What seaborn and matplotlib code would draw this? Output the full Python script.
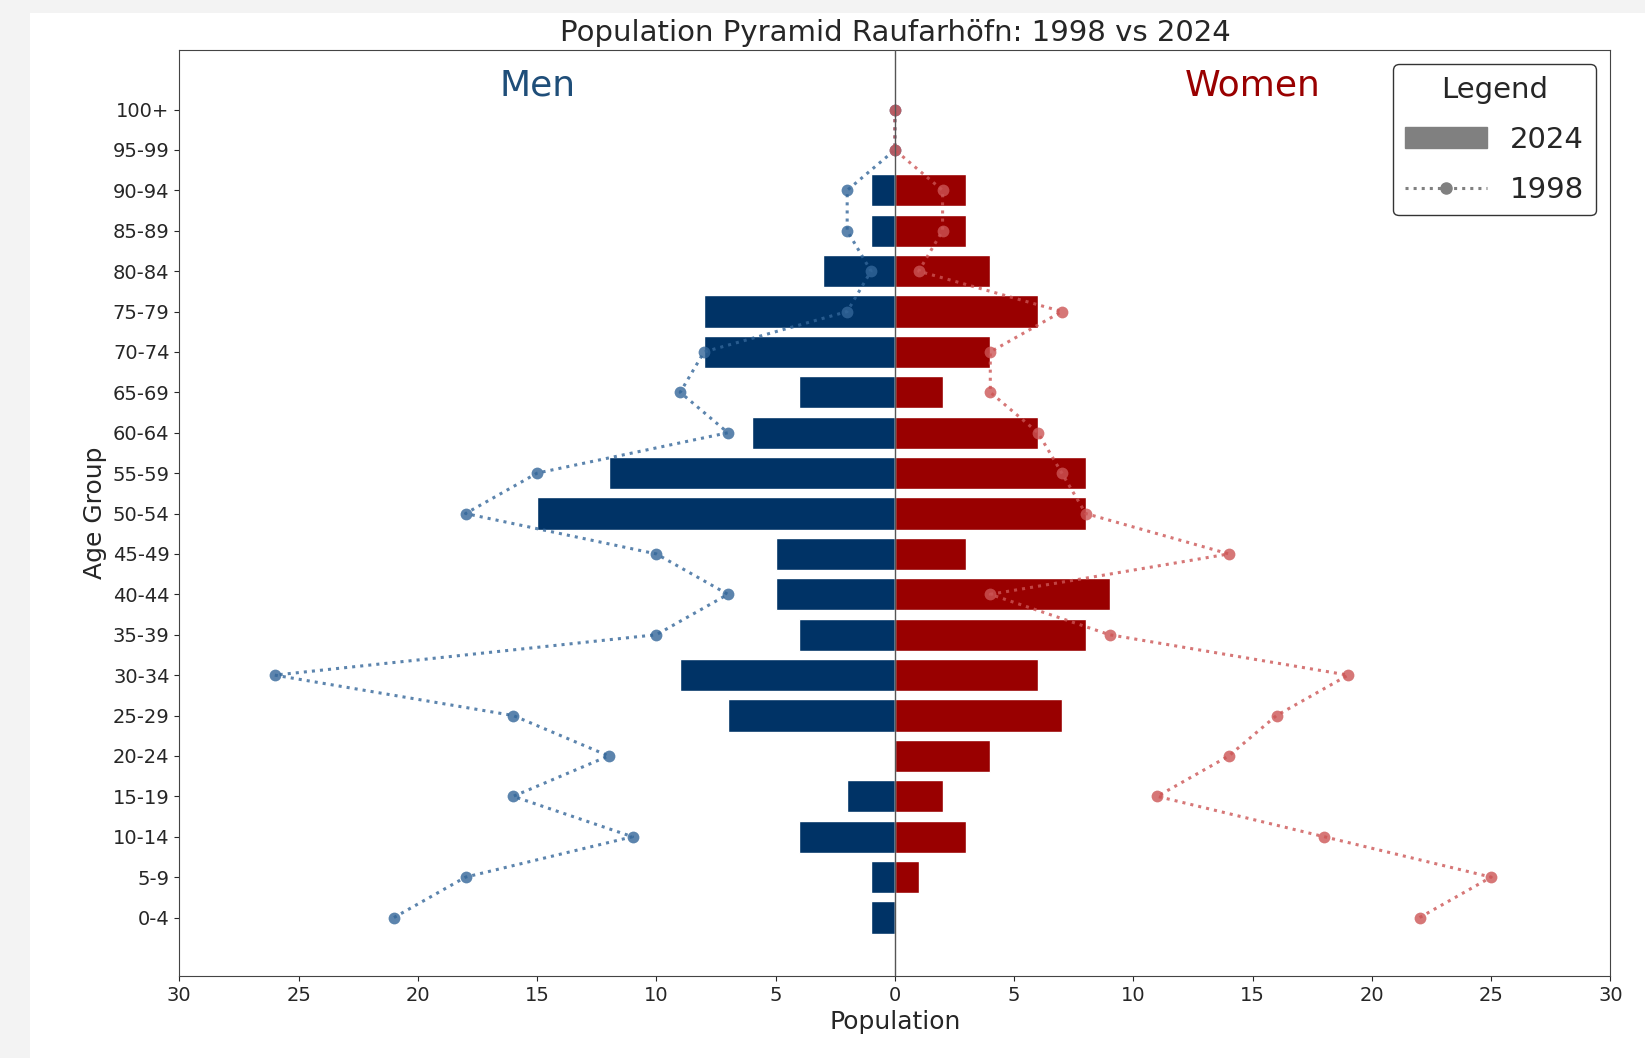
import matplotlib
matplotlib.use("Agg")
import matplotlib.pyplot as plt
from matplotlib.patches import Patch, Rectangle
from matplotlib.lines import Line2D
import numpy as np
import seaborn as sns

age_groups = ["0-4", "5-9", "10-14", "15-19", "20-24", "25-29", "30-34", "35-39",
              "40-44", "45-49", "50-54", "55-59", "60-64", "65-69", "70-74",
              "75-79", "80-84", "85-89", "90-94", "95-99", "100+"]

men_2024 = [1, 1, 4, 2, 0, 7, 9, 4, 5, 5, 15, 12, 6, 4, 8, 8, 3, 1, 1, 0, 0]
women_2024 = [0, 1, 3, 2, 4, 7, 6, 8, 9, 3, 8, 8, 6, 2, 4, 6, 4, 3, 3, 0, 0]
men_1998 = [21, 18, 11, 16, 12, 16, 26, 10, 7, 10, 18, 15, 7, 9, 8, 2, 1, 2, 2, 0, 0]
women_1998 = [22, 25, 18, 11, 14, 16, 19, 9, 4, 14, 8, 7, 6, 4, 4, 7, 1, 2, 2, 0, 0]

sns.set_style("ticks")
plt.rcParams["font.family"] = ["DejaVu Sans"]

fig = plt.figure(figsize=(16.45, 10.58), dpi=100, facecolor="#f3f3f3")
# white card on gray screenshot background
fig.patches.append(Rectangle((0.018, 0), 1 - 0.018, 0.988, transform=fig.transFigure,
                             facecolor="white", edgecolor="none", zorder=-10))
ax = fig.add_axes([0.109, 0.0774, 0.979 - 0.109, 0.953 - 0.0774])

pos = np.arange(len(age_groups))

# 2024 bars
sns.barplot(x=-np.array(men_2024), y=pos, orient="y", native_scale=True,
            color="#003366", saturation=1, width=0.8, ax=ax)
sns.barplot(x=women_2024, y=pos, orient="y", native_scale=True,
            color="#990000", saturation=1, width=0.8, ax=ax)

# 1998 points
sns.lineplot(x=-np.array(men_1998), y=pos, orient="y", sort=False, ax=ax,
             color="#336699", linestyle=":", linewidth=2.2, marker="o",
             markersize=8.5, markeredgewidth=0, alpha=0.8, zorder=3)
sns.lineplot(x=women_1998, y=pos, orient="y", sort=False, ax=ax,
             color="#cc5555", linestyle=":", linewidth=2.2, marker="o",
             markersize=8.5, markeredgewidth=0, alpha=0.8, zorder=3)

ax.axvline(0, color="#555555", linewidth=1, zorder=4)

ax.set_xlim(-30, 30)
ax.set_ylim(-1.45, 21.48)
ticks = np.arange(-30, 31, 5)
ax.set_xticks(ticks)
ax.set_xticklabels([str(abs(t)) for t in ticks], fontsize=14)
ax.set_yticks(pos)
ax.set_yticklabels(age_groups, fontsize=14)
for s in ax.spines.values():
    s.set_color("#444444")

ax.set_xlabel("Population", fontsize=18)
ax.set_ylabel("Age Group", fontsize=18)
ax.set_title("Population Pyramid Raufarhöfn: 1998 vs 2024", fontsize=21, pad=6)

ax.text(-15, 20.6, "Men", color="#1f4e79", fontsize=26, ha="center", va="center")
ax.text(15, 20.6, "Women", color="#990000", fontsize=26, ha="center", va="center")

handles = [Patch(color="#808080", label="2024"),
           Line2D([0], [0], color="#808080", linestyle=":", linewidth=2.2,
                  marker="o", markersize=8, label="1998")]
leg = ax.legend(handles=handles, title="Legend", loc="upper right", fontsize=21,
                title_fontsize=21, handlelength=2.8, labelspacing=0.75,
                frameon=True, framealpha=1, edgecolor="#333333", fancybox=True)

fig.savefig("out.png", dpi=100, facecolor=fig.get_facecolor())
